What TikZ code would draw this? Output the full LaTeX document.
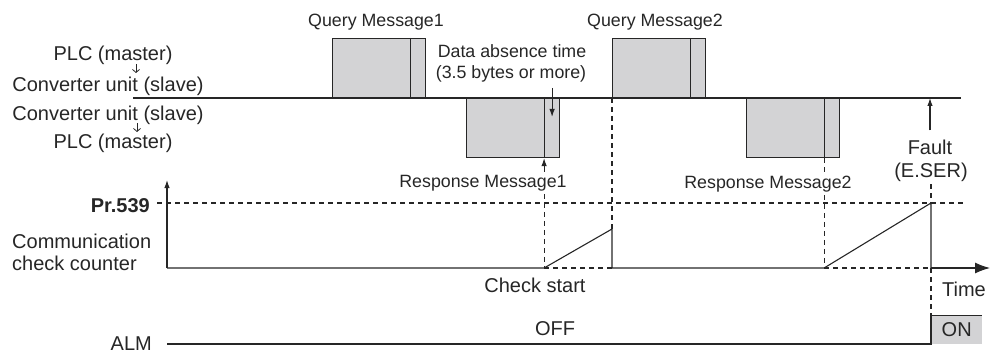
\documentclass[tikz,border=0pt]{standalone}
\usepackage{fontspec}
\setmainfont{Liberation Sans}
\usepackage{tikz}
\usetikzlibrary{arrows.meta,positioning,calc}
\definecolor{boxgray}{RGB}{211,211,213}
\definecolor{inkgray}{RGB}{38,38,38}

\begin{document}
\begin{tikzpicture}[x=1pt, y=-1pt, >={Latex[length=8pt,width=5.5pt]},
  every node/.style={font=\fontsize{20}{22}\selectfont, inner sep=0pt, text=inkgray},
  msg/.style={draw=inkgray, fill=boxgray, line width=1.1pt, minimum width=93pt, minimum height=59pt},
  smalltext/.style={font=\fontsize{17.8}{20}\selectfont},
  dirarrow/.style={draw=inkgray, line width=0.8pt, -{Straight Barb[length=3pt,width=7pt]}},
  wire/.style={draw=inkgray, line width=1.1pt},
  guide/.style={draw=inkgray, line width=1.1pt, dash pattern=on 5pt off 4pt}]
\useasboundingbox (0,0) rectangle (997,353);

% left labels
\node[anchor=base] (plcA) at (113,61) {PLC (master)};
\node[anchor=base] (convA) at (108,92) {Converter unit (slave)};
\node[anchor=base] (convB) at (108,121) {Converter unit (slave)};
\node[anchor=base] (plcB) at (113,149) {PLC (master)};
\coordinate (dirAtop) at (136,64);
\coordinate (dirAbot) at (136,73);
\coordinate (dirBtop) at (137,123);
\coordinate (dirBbot) at (137,132);
\draw[dirarrow] (dirAtop) -- (dirAbot);
\draw[dirarrow] (dirBtop) -- (dirBbot);

% bus and messages
\coordinate (busL) at (133,98);
\coordinate (busR) at (961,98);
\draw[wire] (busL) -- (busR);
\node[msg, anchor=south west] (query1) at (332,98) {};
\node[msg, anchor=south west] (query2) at (612,98) {};
\node[msg, anchor=north west] (resp1) at (466,98) {};
\node[msg, anchor=north west] (resp2) at (746,98) {};
\foreach \m in {query1,query2,resp1,resp2}
  \draw[wire] ([xshift=-16pt]\m.north east) -- ([xshift=-16pt]\m.south east);
\coordinate (r1end) at ([xshift=-16pt]resp1.south east);
\coordinate (r2end) at ([xshift=-16pt]resp2.south east);
\coordinate (gaptip) at ([xshift=-8pt,yshift=-19pt]resp1.north east);

\node[smalltext, anchor=base] (q1label) at (376,27) {Query Message1};
\node[smalltext, anchor=base] (q2label) at (655,27) {Query Message2};
\node[smalltext, anchor=base] (absA) at (512,58) {Data absence time};
\node[smalltext, anchor=base] (absB) at (511,78) {(3.5 bytes or more)};
\node[smalltext, anchor=base, inner ysep=3pt] (r1label) at (483,187) {Response Message1};
\node[smalltext, anchor=base, inner ysep=3pt] (r2label) at (768,188) {Response Message2};
\node[anchor=base] (faultA) at (930,154) {Fault};
\node[anchor=base, inner ysep=3pt] (faultB) at (931,177) {(E.SER)};

\draw[wire,->] ([yshift=-6pt]gaptip |- absB.south) -- (gaptip);
\draw[wire,->] (r1end |- r1label.north) -- (r1end);
\draw[wire,->] ([yshift=9pt]faultA.north) -- (faultA.north |- busR);

% counter
\coordinate (origin) at (167,268);
\coordinate (ytop) at (167,180);
\coordinate (xend) at (990,268);
\coordinate (prL) at (157,203);
\coordinate (prR) at (965,203);
\coordinate (c1start) at (r1end |- origin);
\coordinate (c1top) at (612,229);
\coordinate (c1drop) at (612,268);
\coordinate (c2start) at (r2end |- origin);
\coordinate (c2top) at (931,203);
\coordinate (c2drop) at (931,268);

\node[anchor=base east, font=\bfseries\fontsize{20}{22}\selectfont] (pr) at (150,212) {Pr.539};
\node[anchor=base west] (commA) at (12,248) {Communication};
\node[anchor=base west] (commB) at (12,270) {check counter};
\node[anchor=base] (chk) at (535,292) {Check start};
\node[anchor=base] (time) at (964,296) {Time};

\draw[wire,->] (origin) -- (ytop);
\draw[guide] (prL) -- (prR);
\draw[wire] (origin) -- (c1start) -- (c1top) -- (c1drop) -- (c2start) -- (c2top) -- (c2drop);
\draw[guide] (c1start) -- (c1drop);
\draw[guide] (c2start) -- (c2drop);
\draw[wire,-{Latex[length=15pt,width=11pt]}] (c2drop) -- (xend);

\draw[guide] (query2.south west) -- (c1top);
\draw[guide] (r1end |- r1label.south) -- (c1start);
\draw[guide] (r2end) -- (r2end |- r2label.north);
\draw[guide] (r2end |- r2label.south) -- (c2start);
\draw[guide] (c2top |- faultB.south) -- (c2top);

% alarm
\node[anchor=base east] (alm) at (152,350) {ALM};
\node[fill=boxgray, anchor=south west, minimum width=51pt, minimum height=28pt] (onbox) at (931,344) {ON};
\coordinate (almL) at (167,344);
\node[anchor=base] (off) at (555,335) {OFF};
\draw[guide] (c2drop) -- (onbox.north west);
\draw[wire] (almL) -- (onbox.south west) -- (onbox.north west) -- (onbox.north east);
\end{tikzpicture}
\end{document}
